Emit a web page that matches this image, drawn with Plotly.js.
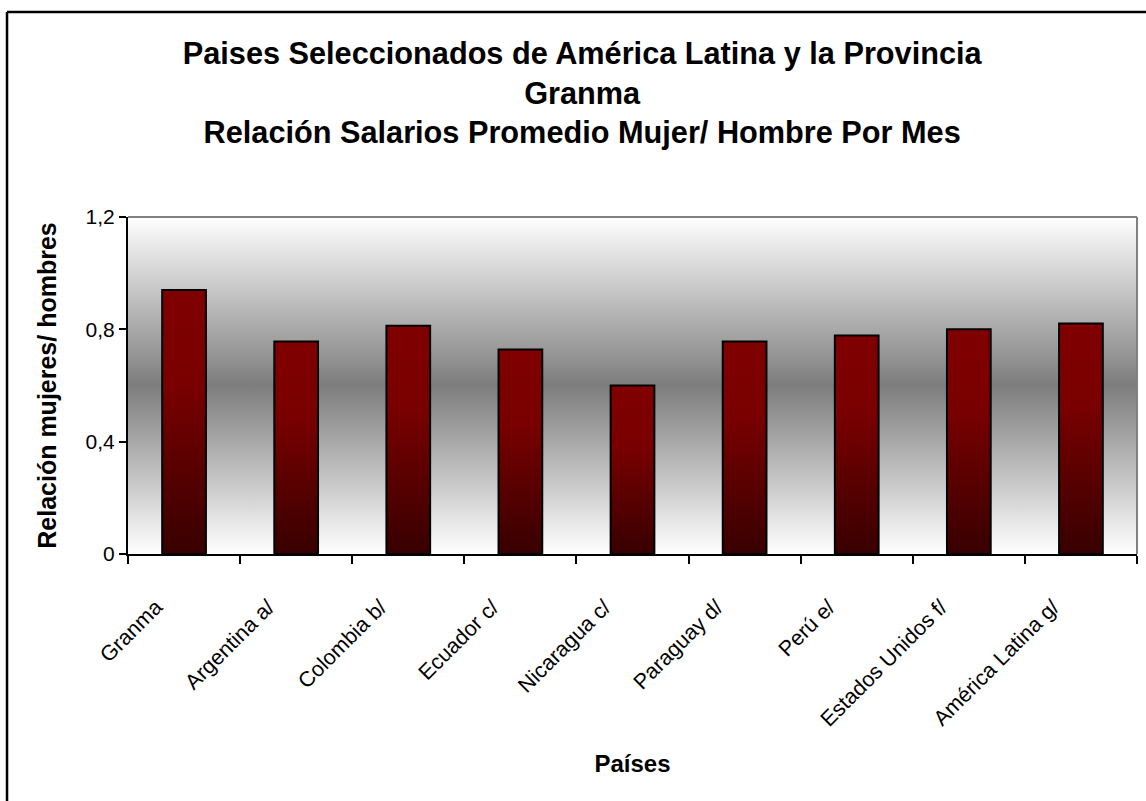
<!DOCTYPE html>
<html>
<head>
<meta charset="utf-8">
<script src="https://cdn.plot.ly/plotly-3.0.1.min.js"></script>
<style>
  html, body { margin: 0; padding: 0; background: #ffffff; overflow: hidden; }
  #chart { width: 1146px; height: 801px; }
</style>
</head>
<body>
<div id="chart"></div>
<script>
// ---- data ----
const categories = ['Granma', 'Argentina a/', 'Colombia b/', 'Ecuador c/', 'Nicaragua c/',
                    'Paraguay d/', 'Perú e/', 'Estados Unidos f/', 'América Latina g/'];
const ratios = [0.94, 0.757, 0.813, 0.728, 0.60, 0.757, 0.778, 0.80, 0.821];
const yTickValues = [0, 0.4, 0.8, 1.2];
const yTickLabels = ['0', '0,4', '0,8', '1,2'];
const titleLines = ['Paises Seleccionados de América Latina y la Provincia', 'Granma',
                    'Relación Salarios Promedio Mujer/ Hombre Por Mes'];

const FONT = 'Liberation Sans, Arial, sans-serif';

const trace = {
  type: 'bar',
  x: categories,
  y: ratios,
  marker: { color: '#800000', line: { color: '#000000', width: 2 } },
  hoverinfo: 'none'
};

const layout = {
  width: 1146,
  height: 801,
  margin: { l: 128, r: 9, t: 217, b: 247, autoexpand: false },
  paper_bgcolor: '#ffffff',
  plot_bgcolor: '#a0a0a0',
  separators: ', ',
  showlegend: false,
  bargap: 0.61,
  font: { family: FONT, color: '#000000' },
  title: {
    text: '<b>' + titleLines.join('<br>') + '</b>',
    font: { family: FONT, size: 30.7, color: '#000000' },
    xref: 'container', x: 0.508, xanchor: 'center',
    yref: 'container', y: 0.9205, yanchor: 'top'
  },
  xaxis: {
    type: 'category',
    tickangle: -45,
    tickson: 'boundaries',
    ticks: 'outside', ticklen: 8, tickwidth: 2, tickcolor: '#000000',
    showline: true, linecolor: '#000000', linewidth: 2,
    showgrid: false, zeroline: false,
    tickfont: { family: FONT, size: 21.5, color: '#000000' },
    ticklabelshift: -28,
    ticklabelstandoff: 30,
    automargin: false,
    title: { text: '<b>Países</b>', font: { family: FONT, size: 24, color: '#000000' }, standoff: 25 }
  },
  yaxis: {
    range: [0, 1.2],
    tickvals: yTickValues,
    ticktext: yTickLabels,
    ticks: 'outside', ticklen: 7, tickwidth: 2, tickcolor: '#000000',
    showline: true, linecolor: '#000000', linewidth: 2,
    showgrid: false, zeroline: false,
    tickfont: { family: FONT, size: 21, color: '#000000' },
    automargin: false,
    title: { text: '<b>Relación mujeres/ hombres</b>', font: { family: FONT, size: 25, color: '#000000' }, standoff: 22 }
  },
  shapes: [
    // gray top and right border of the plot area
    { type: 'line', xref: 'x domain', yref: 'y domain', x0: 0, x1: 1, y0: 1, y1: 1,
      line: { color: '#808080', width: 2 } },
    { type: 'line', xref: 'x domain', yref: 'y domain', x0: 1, x1: 1, y0: 0, y1: 1,
      line: { color: '#808080', width: 2 } },
    // outer chart frame: only its left and top edges fall inside the picture
    { type: 'line', xref: 'paper', yref: 'paper', x0: -0.1199, x1: -0.1199, y0: -0.74, y1: 1.6083,
      line: { color: '#000000', width: 2.5 } },
    { type: 'line', xref: 'paper', yref: 'paper', x0: -0.1199, x1: 1.0089, y0: 1.6083, y1: 1.6083,
      line: { color: '#000000', width: 2.5 } }
  ]
};

Plotly.newPlot('chart', [trace], layout, { staticPlot: true, displayModeBar: false }).then(function (gd) {
  const svgNS = 'http://www.w3.org/2000/svg';
  const svg = gd.querySelector('svg.main-svg');
  let defs = svg.querySelector('defs');
  if (!defs) { defs = document.createElementNS(svgNS, 'defs'); svg.insertBefore(defs, svg.firstChild); }

  function makeGrad(id, stops) {
    const g = document.createElementNS(svgNS, 'linearGradient');
    g.setAttribute('id', id);
    g.setAttribute('x1', '0'); g.setAttribute('y1', '0');
    g.setAttribute('x2', '0'); g.setAttribute('y2', '1');
    stops.forEach(function (s) {
      const st = document.createElementNS(svgNS, 'stop');
      st.setAttribute('offset', s[0]);
      st.setAttribute('stop-color', s[1]);
      g.appendChild(st);
    });
    defs.appendChild(g);
  }
  makeGrad('bgGrad', [['0', '#ffffff'], ['0.5', '#7d7d7d'], ['1', '#ffffff']]);
  makeGrad('barGrad', [['0', '#800000'], ['0.35', '#7a0000'], ['1', '#380000']]);

  const bg = gd.querySelector('.bglayer rect.bg');
  if (bg) bg.style.fill = 'url(#bgGrad)';
  gd.querySelectorAll('.barlayer .point path').forEach(function (p) {
    p.style.fill = 'url(#barGrad)';
  });
});
</script>
</body>
</html>
